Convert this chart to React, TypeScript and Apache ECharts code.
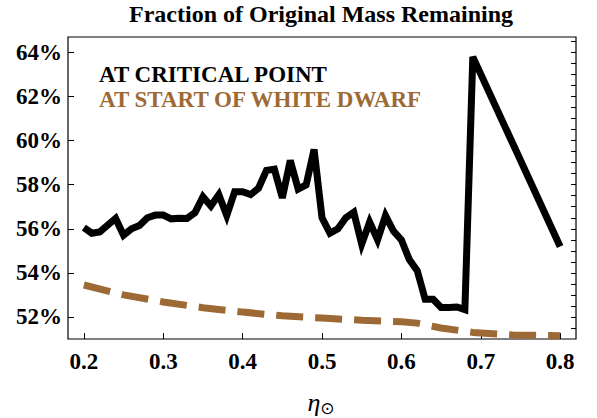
import React, { useEffect, useRef } from "react";
import * as echarts from "echarts";

const etaValues = [
  0.2, 0.21, 0.22, 0.23, 0.24, 0.25, 0.26, 0.27, 0.28, 0.29,
  0.3, 0.31, 0.32, 0.33, 0.34, 0.35, 0.36, 0.37, 0.38, 0.39,
  0.4, 0.41, 0.42, 0.43, 0.44, 0.45, 0.46, 0.47, 0.48, 0.49,
  0.5, 0.51, 0.52, 0.53, 0.54, 0.55, 0.56, 0.57, 0.58, 0.59,
  0.6, 0.61, 0.62, 0.63, 0.64, 0.65, 0.66, 0.67, 0.68, 0.69, 0.8,
];
const criticalPoint = [
  56.05, 55.8, 55.86, 56.17, 56.47, 55.71, 56.0, 56.15, 56.5, 56.62,
  56.62, 56.45, 56.48, 56.47, 56.73, 57.45, 57.03, 57.55, 56.6, 57.68,
  57.68, 57.55, 57.84, 58.65, 58.7, 57.4, 59.1, 57.8, 57.99, 59.6,
  56.5, 55.8, 56.0, 56.5, 56.75, 55.3, 56.3, 55.5, 56.6, 55.9,
  55.5, 54.6, 54.1, 52.8, 52.8, 52.43, 52.43, 52.45, 52.33, 63.8, 55.2,
];
const wdEta = [0.2, 0.25, 0.3, 0.35, 0.4, 0.45, 0.5, 0.55, 0.6, 0.62, 0.65, 0.69, 0.74, 0.8];
const whiteDwarfStart = [53.45, 53.0, 52.68, 52.42, 52.22, 52.05, 51.95, 51.85, 51.78, 51.72, 51.5, 51.3, 51.18, 51.15];

const xTicks = [0.2, 0.3, 0.4, 0.5, 0.6, 0.7, 0.8];
const yTicks = [52, 54, 56, 58, 60, 62, 64];
const yMinorTicks = [
  51.5, 52, 52.5, 53, 53.5, 54, 54.5, 55, 55.5, 56, 56.5, 57, 57.5, 58,
  58.5, 59, 59.5, 60, 60.5, 61, 61.5, 62, 62.5, 63, 63.5, 64, 64.5,
];

const BROWN = "#9d6a35";
const FONT = "Liberation Serif, serif";
const SERIES_CRIT = "AT CRITICAL POINT";
const SERIES_WD = "AT START OF WHITE DWARF";

export default function App() {
  const ref = useRef<HTMLDivElement>(null);
  useEffect(() => {
    document.body.style.margin = "0";
    const chart = echarts.init(ref.current!, null, { renderer: "svg" });
    const labelStyle = {
      fontFamily: FONT,
      fontWeight: "bold" as const,
      fontSize: 23,
      color: "#000",
    };
    chart.setOption({
      animation: false,
      backgroundColor: "#fff",
      legend: {
        orient: "vertical",
        left: 94,
        top: 63,
        padding: 0,
        itemGap: 2,
        itemWidth: 0,
        itemHeight: 0,
        icon: "none",
        selectedMode: false,
        textStyle: { fontFamily: FONT, fontWeight: "bold", fontSize: 23, padding: [0, 0, 0, 0] },
        data: [
          { name: SERIES_CRIT, textStyle: { color: "#000" } },
          { name: SERIES_WD, textStyle: { color: BROWN } },
        ],
      },
      grid: {
        left: 68,
        right: 21,
        top: 37,
        bottom: 79,
        show: true,
        borderColor: "#000",
        borderWidth: 1.2,
      },
      xAxis: {
        type: "value",
        min: 0.18,
        max: 0.82,
        axisLine: { show: false },
        splitLine: { show: false },
        axisTick: {
          inside: true,
          length: 6,
          customValues: xTicks,
          lineStyle: { color: "#000" },
        },
        axisLabel: {
          ...labelStyle,
          customValues: xTicks,
          margin: 11,
          formatter: (v: number) => v.toFixed(1),
        },
      },
      yAxis: [
        {
          type: "value",
          min: 51,
          max: 64.7,
          position: "left",
          axisLine: { show: false },
          splitLine: { show: false },
          axisTick: {
            inside: true,
            length: 6,
            customValues: yTicks,
            lineStyle: { color: "#000" },
          },
          axisLabel: {
            ...labelStyle,
            customValues: yTicks,
            margin: 6,
            formatter: (v: number) => `${v}%`,
          },
        },
        {
          type: "value",
          min: 51,
          max: 64.7,
          position: "right",
          axisLine: { show: false },
          splitLine: { show: false },
          axisTick: {
            inside: true,
            length: 5,
            customValues: yMinorTicks,
            lineStyle: { color: "#000" },
          },
          axisLabel: { show: false },
        },
      ],
      graphic: [
        {
          type: "text",
          x: 321,
          y: 14,
          style: {
            text: "Fraction of Original Mass Remaining",
            fontFamily: FONT,
            fontWeight: "bold",
            fontSize: 24,
            fill: "#000",
            align: "center",
            verticalAlign: "middle",
          },
        },
        {
          type: "text",
          x: 321,
          y: 402,
          style: {
            text: "{a|η}{b|⊙}",
            align: "center",
            verticalAlign: "middle",
            rich: {
              a: { fontFamily: FONT, fontStyle: "italic", fontWeight: "normal", fontSize: 26, color: "#000" },
              b: { fontFamily: "DejaVu Sans", fontWeight: "normal", fontSize: 17, color: "#000", padding: [12, 0, 0, 0] },
            },
          },
        },
      ],
      series: [
        {
          type: "line",
          name: SERIES_WD,
          data: wdEta.map((x, i) => [x, whiteDwarfStart[i]]),
          showSymbol: false,
          symbol: "none",
          color: BROWN,
          lineStyle: { color: BROWN, width: 7, type: [27, 12] },
          z: 2,
        },
        {
          type: "line",
          name: SERIES_CRIT,
          data: etaValues.map((x, i) => [x, criticalPoint[i]]),
          showSymbol: false,
          symbol: "none",
          color: "#000",
          lineStyle: { color: "#000", width: 7, join: "miter" },
          z: 3,
        },
      ],
    });
    return () => chart.dispose();
  }, []);
  return <div ref={ref} style={{ width: 597, height: 418 }} />;
}
